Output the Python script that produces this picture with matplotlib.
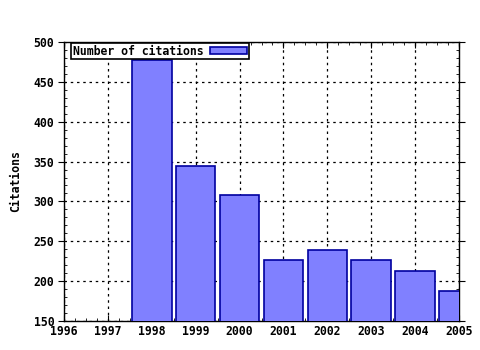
import matplotlib
matplotlib.use("Agg")
import matplotlib.pyplot as plt
from matplotlib.ticker import MultipleLocator

years = [1998, 1999, 2000, 2001, 2002, 2003, 2004, 2005]
citations = [477, 344, 308, 226, 239, 226, 213, 188]
xticks = list(range(1996, 2006))
yticks = [150, 200, 250, 300, 350, 400, 450, 500]

plt.rcParams['font.family'] = 'DejaVu Sans Mono'
plt.rcParams['font.weight'] = 'bold'

fig = plt.figure(figsize=(4.8, 3.5), dpi=100)
ax = fig.add_axes([64/480, 1-321/350, (459-64)/480, (321-42)/350])
ax.bar(years, citations, width=0.9, color='#8080ff', edgecolor='#0000a0',
       linewidth=1.2, label='Number of citations', zorder=3)
ax.set_xlim(1996, 2005)
ax.set_ylim(150, 500)
ax.set_xticks(xticks)
ax.set_yticks(yticks)
ax.xaxis.set_minor_locator(MultipleLocator(0.25))
ax.yaxis.set_minor_locator(MultipleLocator(10))
ax.tick_params(which='both', direction='in', top=True, right=True, labelsize=8.3)
ax.tick_params(which='major', length=4, pad=3)
ax.tick_params(which='minor', length=2)
ax.tick_params(axis='y', which='major', direction='out', length=4)
ax.grid(True, which='major', color='black', linestyle=(0, (2, 3)), linewidth=0.9, zorder=1)
ax.set_ylabel('Citations', fontsize=8.3, fontweight='bold', labelpad=8)
for s in ax.spines.values():
    s.set_linewidth(1.0)
leg = ax.legend(loc='upper left', bbox_to_anchor=(7/395, 1 - 1/279), fontsize=8.3,
                fancybox=False, framealpha=1, edgecolor='black', borderpad=0.15,
                handlelength=3.2, handleheight=0.5, handletextpad=0.6,
                borderaxespad=0.0, markerfirst=False)
leg.get_frame().set_linewidth(1.2)
leg.set_zorder(5)
fig.savefig('out.png', dpi=100)
